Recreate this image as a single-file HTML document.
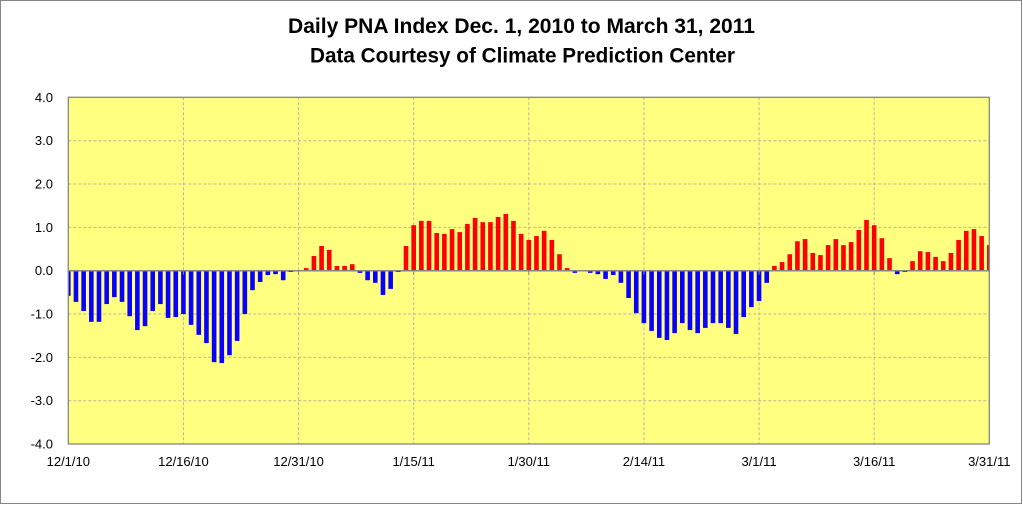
<!DOCTYPE html>
<html><head><meta charset="utf-8"><style>
html,body{margin:0;padding:0;background:#fff;}
svg{display:block;}
</style></head><body>
<svg id="c" width="1023" height="505" xmlns="http://www.w3.org/2000/svg" font-family="'Liberation Sans', sans-serif">
<rect x="0.5" y="0.5" width="1021" height="503" fill="#fff" stroke="#868686" stroke-width="1"/>
<text x="521.5" y="33" font-size="21" font-weight="bold" text-anchor="middle" textLength="467" lengthAdjust="spacingAndGlyphs">Daily PNA Index Dec. 1, 2010 to March 31, 2011</text>
<text x="522.5" y="62.5" font-size="21" font-weight="bold" text-anchor="middle" textLength="425" lengthAdjust="spacingAndGlyphs">Data Courtesy of Climate Prediction Center</text>
<rect x="68.3" y="97.3" width="921" height="346.7" fill="#ffff80"/>
<g id="grid" stroke="#b8b8a0" stroke-width="1" stroke-dasharray="3,2"></g>
<g id="bars"></g>
<line x1="68.3" y1="270.7" x2="989.3" y2="270.7" stroke="#868686" stroke-width="1.5"/>
<g id="ticks" stroke="#868686" stroke-width="1"></g>
<rect x="68.3" y="97.3" width="921" height="346.7" fill="none" stroke="#868686" stroke-width="1.3"/>
<g id="ylab" font-size="13" text-anchor="end" fill="#000"></g>
<g id="xlab" font-size="13" text-anchor="middle" fill="#000"></g>
</svg>
<script>
var d=[-0.58,-0.72,-0.93,-1.18,-1.18,-0.77,-0.61,-0.72,-1.05,-1.37,-1.28,-0.93,-0.77,-1.09,-1.07,-1.0,-1.25,-1.48,-1.67,-2.11,-2.13,-1.95,-1.62,-1.0,-0.45,-0.26,-0.10,-0.08,-0.22,-0.03,0.0,
0.06,0.34,0.57,0.48,0.11,0.11,0.15,-0.05,-0.22,-0.28,-0.56,-0.42,-0.03,0.57,1.05,1.15,1.15,0.87,0.85,0.96,0.89,1.08,1.22,1.12,1.12,1.24,1.31,1.15,0.85,0.71,0.80,
0.92,0.71,0.38,0.06,-0.05,0,-0.05,-0.08,-0.19,-0.10,-0.28,-0.63,-0.98,-1.21,-1.39,-1.55,-1.60,-1.44,-1.21,-1.37,-1.44,-1.32,-1.21,-1.21,-1.32,-1.46,-1.07,-0.84,
-0.70,-0.28,0.11,0.20,0.38,0.68,0.73,0.41,0.36,0.59,0.73,0.59,0.66,0.94,1.17,1.05,0.75,0.29,-0.08,-0.03,0.22,0.45,0.43,0.32,0.22,0.41,0.71,0.92,0.96,0.80,0.59];
var NS="http://www.w3.org/2000/svg";
function el(t,a,p,txt){var e=document.createElementNS(NS,t);for(var k in a)e.setAttribute(k,a[k]);if(txt!==undefined)e.textContent=txt;p.appendChild(e);return e;}
var x0=68.3,x1=989.3,y0=97.3,y1=444,z=270.7,u=(y1-y0)/8,step=(x1-x0)/120;
var g=document.getElementById('grid'),b=document.getElementById('bars'),tk=document.getElementById('ticks'),yl=document.getElementById('ylab'),xl=document.getElementById('xlab');
for(var i=-3;i<=3;i++){if(i==0)continue;var y=z-i*u;el('line',{x1:x0,y1:y,x2:x1,y2:y},g);}
var lab=['12/1/10','12/16/10','12/31/10','1/15/11','1/30/11','2/14/11','3/1/11','3/16/11','3/31/11'];
for(var j=0;j<9;j++){var x=x0+j*15*step;if(j>0&&j<8)el('line',{x1:x,y1:y0,x2:x,y2:y1},g);
 el('line',{x1:x,y1:z,x2:x,y2:z+4},tk);
 el('text',{x:x,y:466},xl,lab[j]);}
var bw=4.6;
for(var i=0;i<d.length;i++){var v=d[i];if(v==0)continue;var cx=x0+i*step;var l=Math.max(x0,cx-bw/2),r=Math.min(x1,cx+bw/2);
 var h=Math.abs(v)*u;el('rect',{x:l,y:v>0?z-h:z,width:r-l,height:h,fill:v>0?'#ff0000':'#0a00ff'},b);}
for(var k=4;k>=-4;k--){var y=z-k*u;el('text',{x:53,y:y+4.5},yl,k.toFixed(1));}
</script>
</body></html>
